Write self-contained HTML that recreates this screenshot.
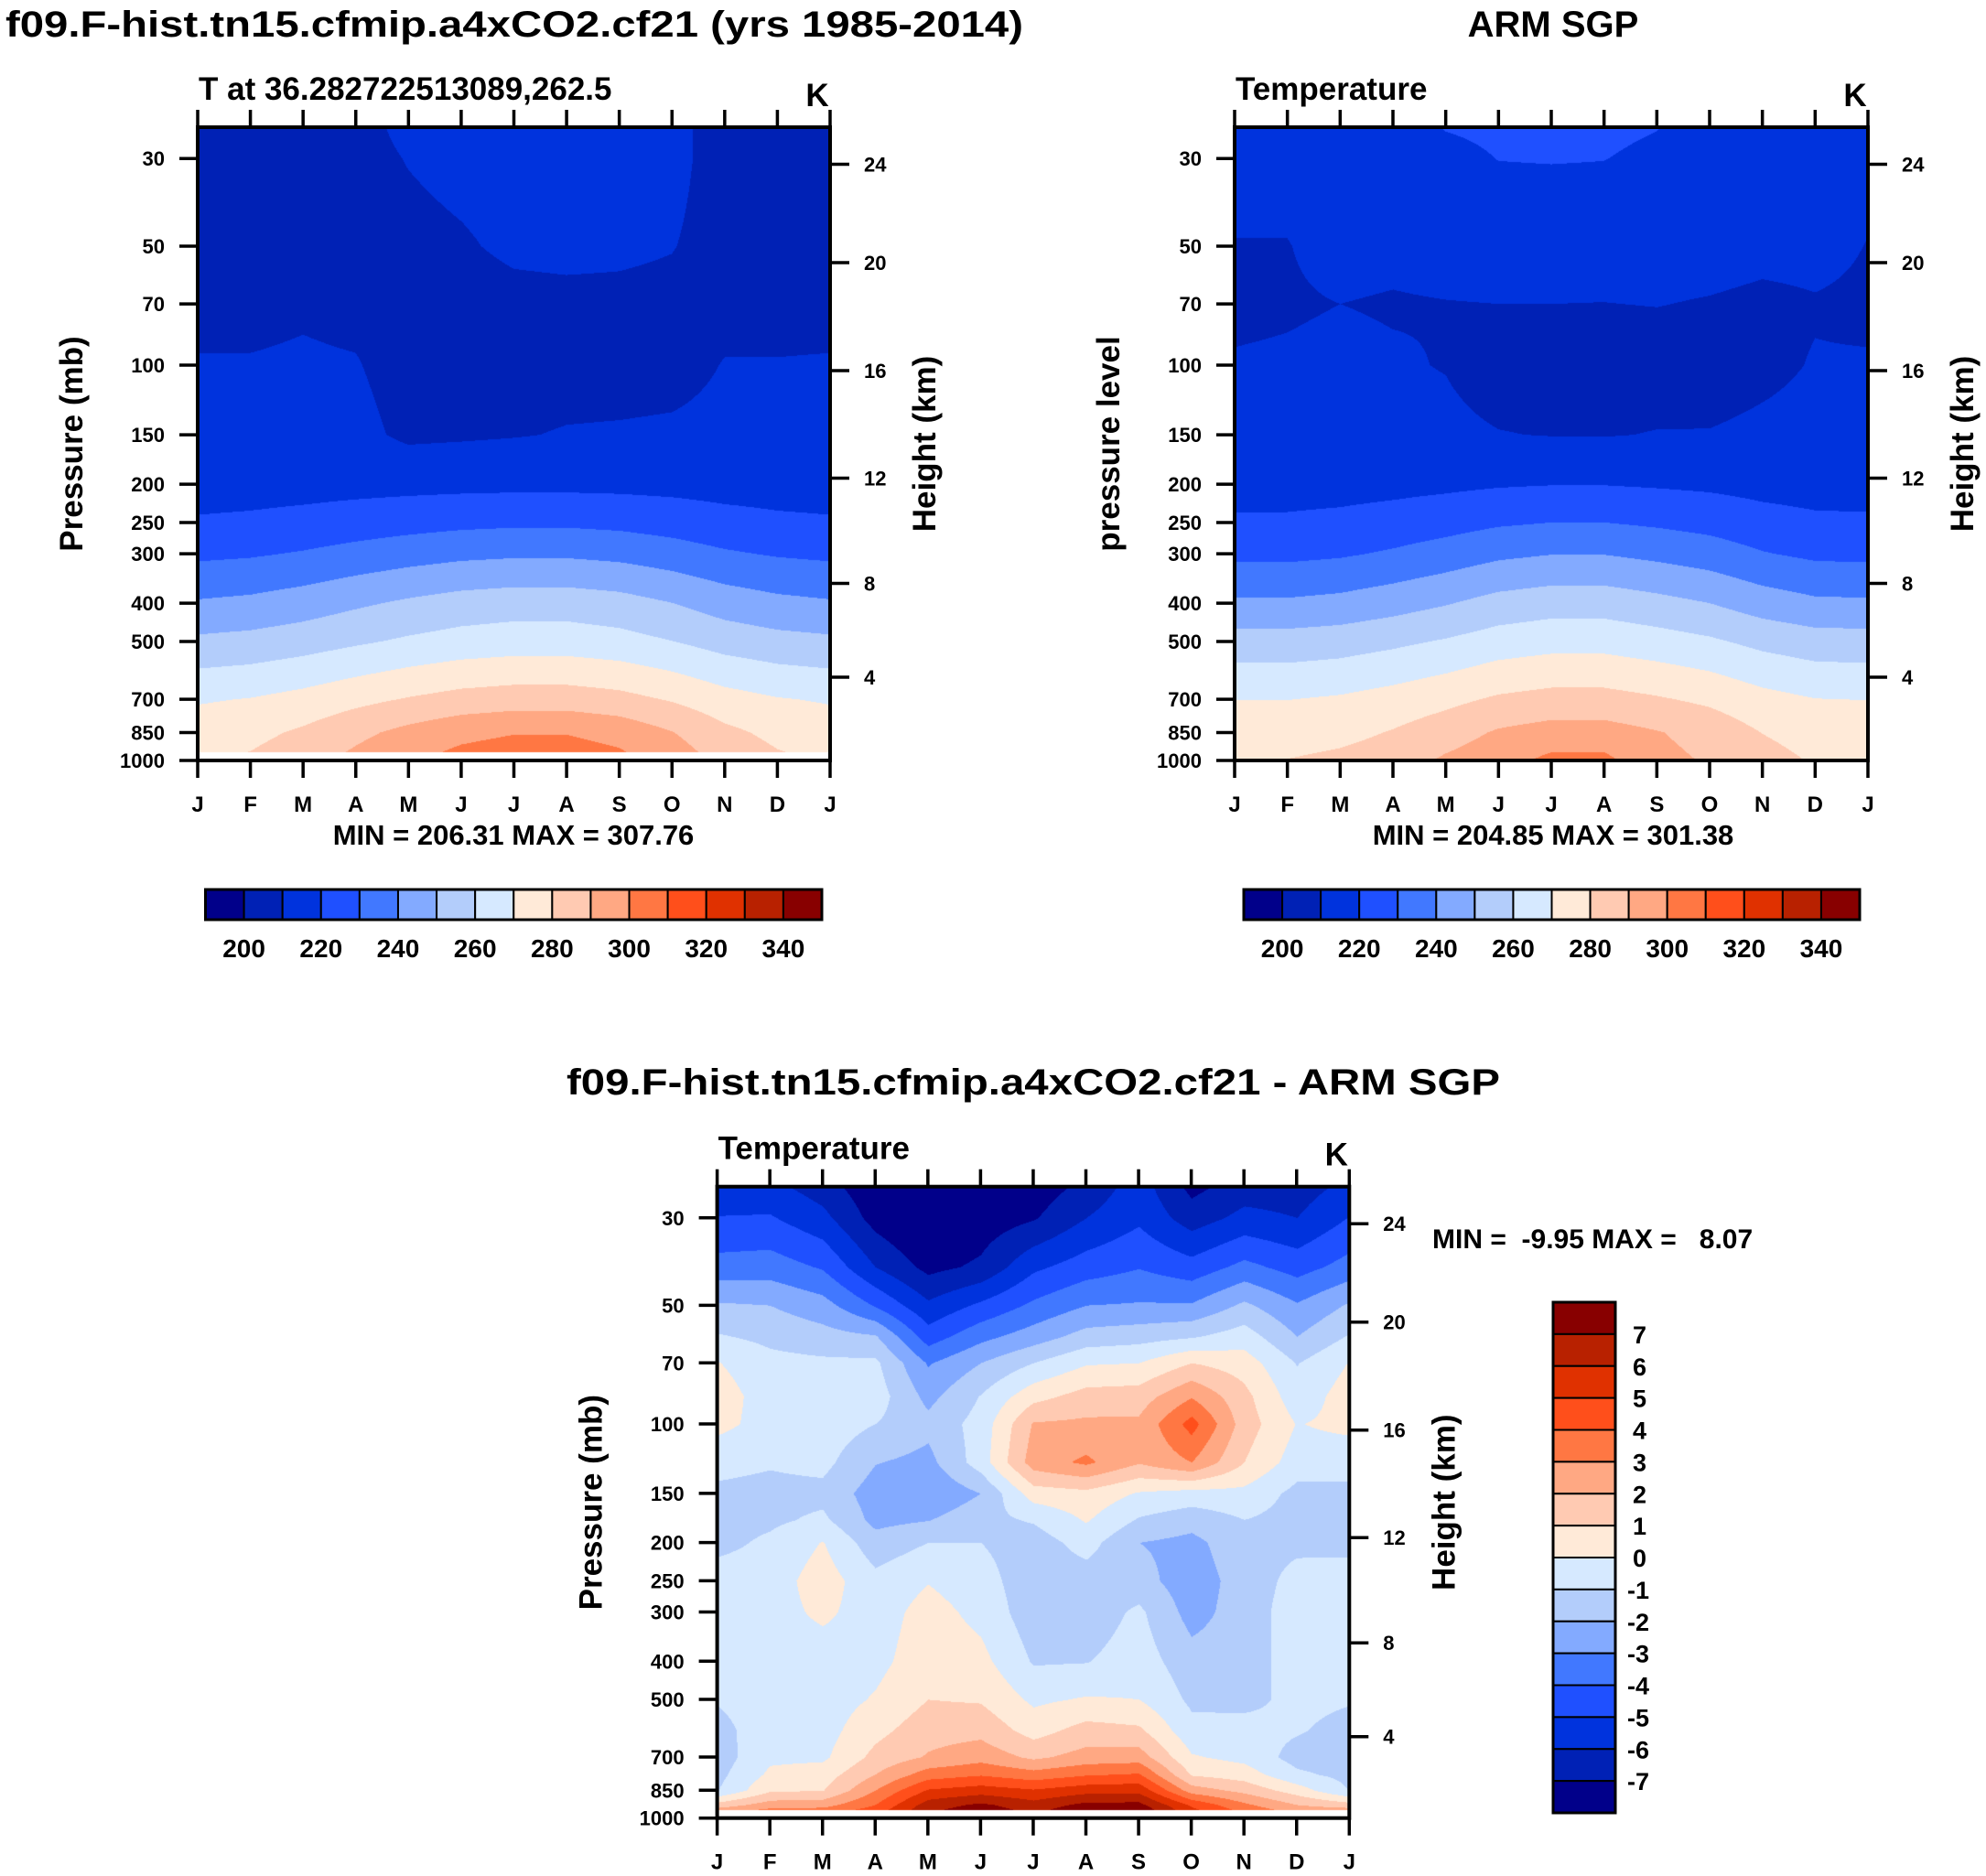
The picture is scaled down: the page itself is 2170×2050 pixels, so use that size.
<!DOCTYPE html>
<html><head><meta charset="utf-8"><style>
html,body{margin:0;padding:0;background:#fff;}
#root{position:relative;width:2170px;height:2050px;overflow:hidden;background:#fff;}
canvas{position:absolute;}
svg{position:absolute;left:0;top:0;}
text{font-family:"Liberation Sans",Arial,sans-serif;font-weight:bold;fill:#000;}
</style></head><body>
<div id="root">
<canvas id="c1"></canvas>
<canvas id="c2"></canvas>
<canvas id="c3"></canvas>
<svg id="ov" width="2170" height="2050"></svg>
</div>
<script>
// ---------------- DATA ----------------
const months = ["J","F","M","A","M","J","J","A","S","O","N","D","J"];
const pLevels = [25,30,50,70,100,150,200,250,300,400,500,700,850,1000];
// model temperature (K), rows = pressure levels, cols = months
const modelT = [
[207.5,207.5,207.5,208,211.5,213,214,214,214,213,205.5,207.5,207.5],
[207.5,207.5,207.5,207.8,210.3,212,213,213,213,212.3,206.5,207.5,207.5],
[207,207,207.5,207,208,209.2,211.3,211.7,211.3,210.3,207,207,207],
[208,208,209,208,207,207,208,208.3,208.3,208,208,208,208],
[210.5,210.5,211,210.5,206.5,206.5,206.5,207,207,207.5,210.3,210.3,210.5],
[212.5,212.5,212.6,212.5,208.2,208.8,209.5,210.5,210.8,211.2,212,212,212.5],
[216,216.2,216.5,216.9,217.2,217.5,217.7,217.7,217.5,217.1,216.5,216.2,216],
[221,221.7,223,224.7,226.3,227.6,228.3,228.3,227.4,225.6,223.2,221.7,221],
[228,228.9,230.8,233.4,235.7,237.6,238.5,238.5,237.2,234.6,231.2,229.1,228],
[241,242.3,244.9,248.4,251.6,254.2,255.5,255.5,253.8,250.1,245.4,242.5,241],
[252,253.2,255.5,258.6,261.5,263.8,265,265,263.4,260.2,255.9,253.3,252],
[269,270.4,273.3,277.2,280.7,283.6,285,285,283.1,279.1,273.8,270.6,269],
[275,277.2,281.6,287.5,292.9,297.3,299.5,299.5,296.6,290.4,282.4,277.5,275],
[279,281.4,286.3,292.8,298.7,303.6,306,306,302.8,296,287.1,281.7,279]];
// ARM SGP observed temperature (K)
const obsT = [
[212.5,212.5,213.5,215,220.5,222,221.5,222,220.3,216,214,213.5,212.5],
[212,212,213,214,217,220.2,220.5,220.2,218,215,213.5,213,212],
[209.8,209.8,212,211.5,212.5,213,213,213,213,213,212,212,209.8],
[208.8,209.3,210,209.5,209.8,210,210,209.9,210.2,209.5,208.5,209.5,208.8],
[210.5,210.8,211.5,210.7,209.7,206.5,206,206,206.5,207,208.5,210.4,210.5],
[212,212.3,212.5,212.3,211.8,210.3,209.7,209.6,210.3,210.3,211.3,212,212],
[216,216,216.4,217.1,218,219.1,219.7,219.7,219,218.2,216.9,216.1,216],
[221.5,221.5,222.4,224.1,226.2,228.7,230,230,228.5,226.6,223.6,221.8,221.5],
[227.6,227.6,228.8,231.2,234.3,237.9,239.7,239.7,237.5,234.9,230.6,228,227.6],
[241.5,241.5,242.9,245.8,249.3,253.6,255.7,255.7,253.1,250,245.1,241.9,241.5],
[254.2,254.2,255.4,257.9,260.9,264.6,266.4,266.4,264.2,261.5,257.3,254.6,254.2],
[269.8,269.8,271.2,273.9,277.3,281.4,283.4,283.4,281,278,273.2,270.2,269.8],
[275,275,276.9,280.7,285.5,291.2,294,294,290.6,286.4,279.8,275.6,275],
[278,280.3,282.5,285.4,291.5,296,302.5,302.5,293,289,284,279,278]];
// difference (model - obs), one array per month, values along diffLevels
const diffLevels = [25,30,40,50,60,70,85,100,125,150,175,200,250,300,400,500,600,700,775,850,925,955];
const diffByMonth = [
[-5.7,-4.95,-3.6,-1.87,-0.9,0.05,0.5,0.3,-0.7,-1.2,-1.4,-1.3,-0.5,-0.5,-0.6,-0.9,-1.4,-1.5,-1.3,-1.05,1.4,2.5],
[-5.7,-4.9,-3.5,-2.0,-1.25,-0.7,-0.5,-0.4,-0.9,-1.3,-1.2,-0.8,-0.5,-0.4,-0.4,-0.4,-0.3,-0.2,0.2,0.85,2.5,3.3],
[-6.5,-5.7,-4.1,-2.6,-1.6,-0.8,-0.5,-0.4,-0.7,-1.3,-0.8,0.05,0.5,0.2,-0.5,-0.5,-0.4,-0.2,0.5,0.95,2.6,3.4],
[-7.8,-7.4,-6.0,-4.1,-1.9,-0.8,-0.5,-1.0,-1.95,-2.5,-2.3,-1.6,-0.7,-0.5,-0.3,0.1,0.7,1.3,2.0,3.0,4.0,4.5],
[-8.5,-8.3,-7.3,-5.8,-4.5,-3.1,-2.3,-1.7,-2.3,-2.9,-2.05,-1.0,-0.05,0.4,0.6,1.0,1.6,2.1,3.5,5.1,6.5,6.8],
[-7.9,-7.6,-6.8,-4.8,-3.3,-2.0,-0.95,-0.6,-0.5,-2.0,-1.3,-1.0,-0.6,-0.3,0.3,0.9,1.7,2.6,3.9,5.5,7.2,7.6],
[-7.6,-7.1,-5.2,-3.8,-2.5,-1.0,0.65,2.1,2.5,0.5,-0.9,-1.5,-1.6,-1.6,-1.1,-0.2,0.6,1.8,3.4,5.1,6.4,6.7],
[-6.7,-6.0,-4.5,-3.0,-1.6,-0.1,1.4,2.2,3.2,0.7,0.1,-0.6,-1.5,-1.6,-1.05,0.1,1.4,2.4,3.9,5.6,7.3,7.8],
[-5.5,-5.2,-4.05,-2.9,-1.4,0.0,1.5,2.2,2.1,-0.1,-1.1,-2.0,-1.6,-0.8,-0.5,0.0,1.2,2.5,4.1,5.7,7.3,7.8],
[-7.3,-6.5,-4.6,-2.9,-1.1,1.0,2.9,4.4,3.0,-0.4,-1.6,-2.3,-2.6,-2.4,-1.6,-1.2,-0.7,0.1,0.9,2.5,4.8,5.3],
[-6.5,-5.7,-3.7,-1.8,-0.5,0.5,1.3,1.5,1.0,-0.3,-1.0,-1.3,-1.5,-1.5,-1.5,-1.3,-0.6,-0.3,0.5,1.7,3.2,3.7],
[-6.5,-6.0,-4.4,-2.9,-2.0,-1.05,-0.6,-0.05,-0.5,-1.3,-1.4,-1.2,-0.7,-0.5,-0.5,-0.7,-0.9,-1.4,-0.8,0.5,2.0,2.6],
[-5.7,-4.95,-3.6,-1.87,-0.9,0.05,0.5,0.3,-0.7,-1.2,-1.4,-1.3,-0.5,-0.5,-0.6,-0.9,-1.4,-1.5,-1.3,-1.05,1.4,2.5]];
const tempContours = [200,210,220,230,240,250,260,270,280,290,300,310,320,330,340];
const diffContours = [-7,-6,-5,-4,-3,-2,-1,0,1,2,3,4,5,6,7];
const tempCbLabels = ["200","220","240","260","280","300","320","340"];
const diffCbLabels = ["7","6","5","4","3","2","1","0","-1","-2","-3","-4","-5","-6","-7"];
const pressureTicks = [30,50,70,100,150,200,250,300,400,500,700,850,1000];
const heightTicks = ["24","20","16","12","8","4"];
const palette = ["#01008a","#0021b5","#0033dd","#1f50ff","#4178ff","#83aaff","#b3cdfb","#d6e9ff",
 "#ffead8","#ffcab2","#ffa883","#ff7743","#ff4f1b","#e03100","#b82100","#880000"];

// ---------------- LAYOUT ----------------
const PTOP=25, PBOT=1000;
const panels=[
 {id:"c1",L:216,T:139,W:691,H:692,cut:952,name:"model"},
 {id:"c2",L:1349,T:139,W:692,H:692,cut:1000,name:"obs"},
 {id:"c3",L:783.6,T:1296.7,W:690.7,H:690,cut:955,name:"diff"}];
const heightOffsets=[40.5,148,266,383.5,498.5,601];
function yOfP(pn,p){return pn.T+pn.H - pn.H*Math.log(1000/p)/Math.log(1000/PTOP);}
function xOfM(pn,m){return pn.L + pn.W*m/12;}
function rgb(h){return [parseInt(h.slice(1,3),16),parseInt(h.slice(3,5),16),parseInt(h.slice(5,7),16)];}
const palRGB=palette.map(rgb);
function band(v,levels){let i=0;while(i<levels.length&&v>=levels[i])i++;return i;}

function drawField(pn,levels,getVal,cont){
 const cv=document.getElementById(pn.id);
 const W=Math.round(pn.W),H=Math.round(pn.H);
 cv.width=W;cv.height=H;cv.style.left=pn.L+"px";cv.style.top=pn.T+"px";
 cv.style.width=W+"px";cv.style.height=H+"px";
 const ctx=cv.getContext("2d");const img=ctx.createImageData(W,H);
 const lnL=levels.map(p=>Math.log(p));
 const k=Math.log(1000/PTOP);
 for(let y=0;y<H;y++){
  const lp=Math.log(1000)-k*(H-(y+0.5))/H; const p=Math.exp(lp);
  let j=0; while(j<levels.length-2 && lp>lnL[j+1]) j++;
  let fy=(lp-lnL[j])/(lnL[j+1]-lnL[j]); fy=Math.max(0,Math.min(1,fy));
  for(let x=0;x<W;x++){
   const o=(y*W+x)*4;
   if(p>pn.cut){img.data[o]=255;img.data[o+1]=255;img.data[o+2]=255;img.data[o+3]=255;continue;}
   const m=12*(x+0.5)/W; let i=Math.min(11,Math.floor(m)); const fx=m-i;
   const v=(1-fy)*((1-fx)*getVal(j,i)+fx*getVal(j,i+1))+fy*((1-fx)*getVal(j+1,i)+fx*getVal(j+1,i+1));
   const c=palRGB[band(v,cont)];
   img.data[o]=c[0];img.data[o+1]=c[1];img.data[o+2]=c[2];img.data[o+3]=255;
  }
 }
 ctx.putImageData(img,0,0);
}
drawField(panels[0],pLevels,(j,i)=>modelT[j][i],tempContours);
drawField(panels[1],pLevels,(j,i)=>obsT[j][i],tempContours);
drawField(panels[2],diffLevels,(j,i)=>diffByMonth[i][j],diffContours);

// ---------------- SVG ----------------
const NS="http://www.w3.org/2000/svg";const svg=document.getElementById("ov");
function el(tag,attrs,parent){const e=document.createElementNS(NS,tag);for(const k in attrs)e.setAttribute(k,attrs[k]);(parent||svg).appendChild(e);return e;}
function txt(s,x,y,size,anchor,name,extra){const t=el("text",Object.assign({x:x,y:y,"font-size":size,"text-anchor":anchor||"start"},extra||{}));t.textContent=s;
 
 
 return t;}

function axes(pn,sub,ylab,tag){
 const g=el("g",{});
 
 
 const R=pn.L+pn.W,B=pn.T+pn.H;
 months.forEach((mo,i)=>{
  const x=xOfM(pn,i);
  const t1=el("line",{x1:x,y1:pn.T,x2:x,y2:pn.T-19,stroke:"#000","stroke-width":3.5},g);
  
  
  const t2=el("line",{x1:x,y1:B,x2:x,y2:B+19,stroke:"#000","stroke-width":3.5},g);
  
  
  txt(mo,x,B+56,24,"middle","month-label");
 });
 pressureTicks.forEach(p=>{
  const y=yOfP(pn,p);
  const t=el("line",{x1:pn.L,y1:y,x2:pn.L-20,y2:y,stroke:"#000","stroke-width":3.5},g);
  
  
  txt(String(p),pn.L-36,y+8,22,"end","pressure-tick-label");
 });
 heightTicks.forEach((h,i)=>{
  const y=pn.T+heightOffsets[i];
  const t=el("line",{x1:R,y1:y,x2:R+21,y2:y,stroke:"#000","stroke-width":3.5},g);
  
  
  txt(h,R+37,y+8,22,"start","height-tick-label");
 });
 const fr=el("rect",{x:pn.L,y:pn.T,width:pn.W,height:pn.H,fill:"none",stroke:"#000","stroke-width":4},g);
 
 
 txt(sub,pn.L+1,pn.T-30,35,"start","panel-subtitle");
 txt("K",R-14,pn.T-23,35,"middle","units-label");
 const yc=pn.T+pn.H/2;
 txt(ylab,0,0,35,"middle","y-axis-title",{transform:`translate(${pn.L-126},${yc}) rotate(-90)`});
 txt("Height (km)",0,0,35,"middle","height-axis-title",{transform:`translate(${R+115},${yc}) rotate(-90)`});
}
axes(panels[0],"T at 36.282722513089,262.5","Pressure (mb)","model");
axes(panels[1],"Temperature","pressure level","obs");
axes(panels[2],"Temperature","Pressure (mb)","diff");

txt("f09.F-hist.tn15.cfmip.a4xCO2.cf21 (yrs 1985-2014)",6,40,40,"start","model-title",{textLength:1112,lengthAdjust:"spacingAndGlyphs"});
txt("ARM SGP",1697,40,40,"middle","obs-title");
txt("f09.F-hist.tn15.cfmip.a4xCO2.cf21 - ARM SGP",1129,1196,40,"middle","difference-title",{textLength:1020,lengthAdjust:"spacingAndGlyphs"});
txt("MIN = 206.31 MAX = 307.76",561,923,31,"middle","model-min-max");
txt("MIN = 204.85 MAX = 301.38",1697,923,31,"middle","obs-min-max");
txt("MIN =  -9.95 MAX =   8.07",1565,1364,30,"start","diff-min-max",{"xml:space":"preserve",style:"white-space:pre"});

function hbar(x0,x1,y0,y1,tag){
 const g=el("g",{});
 
 
 const w=(x1-x0)/palette.length;
 palette.forEach((c,i)=>{
  const r=el("rect",{x:x0+i*w,y:y0,width:w,height:y1-y0,fill:c,stroke:"#000","stroke-width":2},g);
  
  
 });
 el("rect",{x:x0,y:y0,width:x1-x0,height:y1-y0,fill:"none",stroke:"#000","stroke-width":3},g);
 tempCbLabels.forEach((s,k)=>{ txt(s,x0+(1+2*k)*w,y1+41,28,"middle","colorbar-label"); });
}
hbar(224.5,898,972,1005,"model-colorbar");
hbar(1359,2032,972,1005,"obs-colorbar");
(function(){
 const x0=1697,x1=1765,y0=1423,y1=1981;
 const g=el("g",{});
 
 
 const h=(y1-y0)/palette.length;
 palette.slice().reverse().forEach((c,i)=>{
  const r=el("rect",{x:x0,y:y0+i*h,width:x1-x0,height:h,fill:c,stroke:"#000","stroke-width":2},g);
  
  
 });
 el("rect",{x:x0,y:y0,width:x1-x0,height:y1-y0,fill:"none",stroke:"#000","stroke-width":3},g);
 diffCbLabels.forEach((s,k)=>{ txt(s,s[0]==="-"?1778:1784,y0+(k+1)*h+10,27,"start","colorbar-label"); });
})();
</script>
</body></html>
